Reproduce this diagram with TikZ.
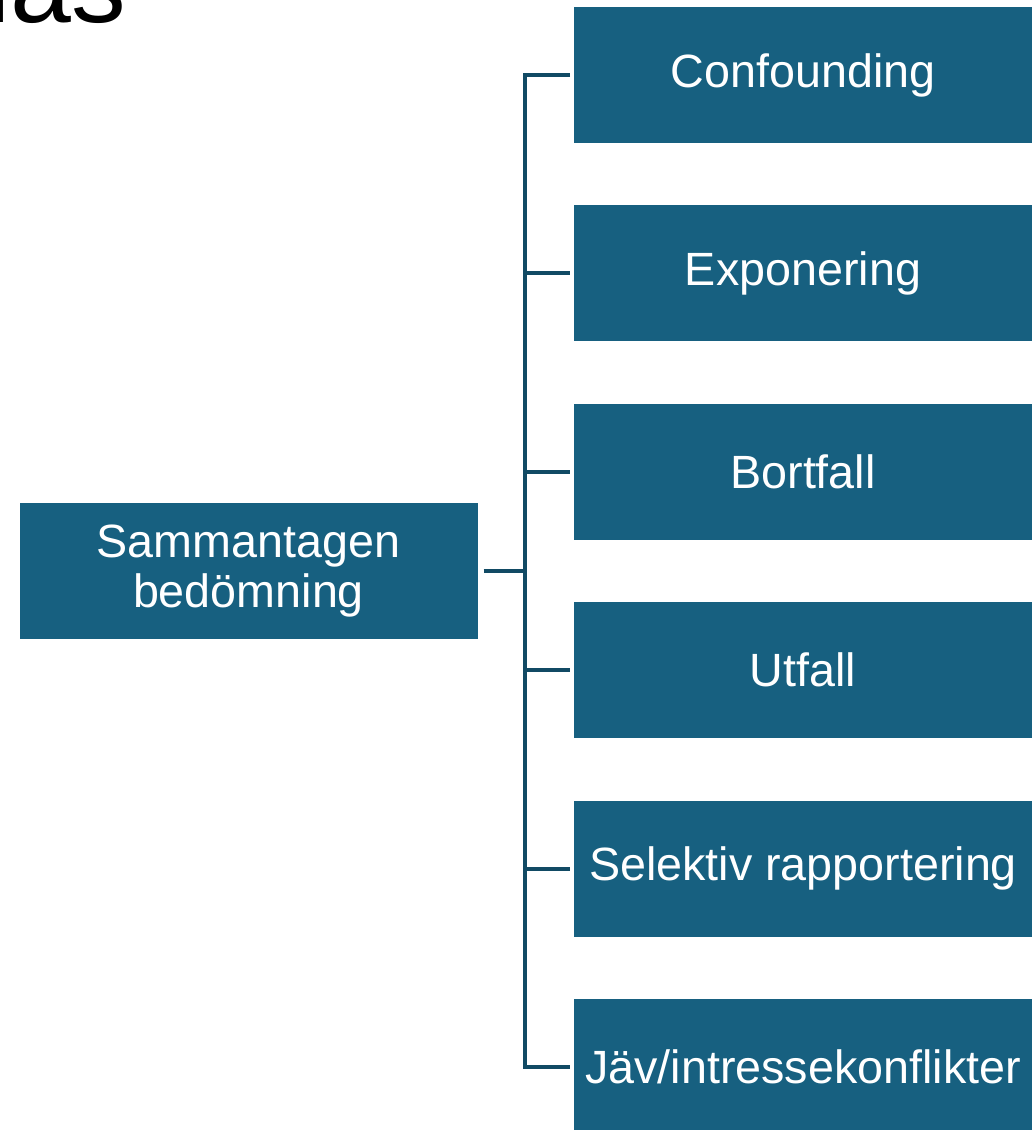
\documentclass[tikz,border=0pt]{standalone}
\usepackage{fontspec}
\setmainfont{Liberation Sans}
\usetikzlibrary{positioning}
\definecolor{boxblue}{RGB}{23,96,128}
\definecolor{linkblue}{RGB}{17,74,100}

\begin{document}
\begin{tikzpicture}[
    x=0.75pt, y=-0.75pt,
    node distance=148.8pt,
    factor/.style={
        rectangle,
        minimum width=343.5pt,
        minimum height=102pt,
        inner sep=0pt,
        outer sep=0pt,
        align=center,
        fill=boxblue,
        text=white,
        font=\fontsize{35}{37.5}\selectfont
    },
    link/.style={line width=3pt, draw=linkblue}
]
\useasboundingbox (0,0) rectangle (1032,1130);
\clip (0,0) rectangle (1032,1130);

\node (title) [anchor=base east, font=\fontsize{82}{82}\selectfont] at (131,23) {Bias};

\node (sum) [factor] at (248.5,571) {Sammantagen\\bedömning};

\node (conf) [factor] at (803,75) {Confounding};
\node (expo) [factor, below of=conf] {Exponering};
\node (bort) [factor, below of=expo] {Bortfall};
\node (utf) [factor, below of=bort] {Utfall};
\node (sel) [factor, below of=utf] {Selektiv rapportering};
\node (jav) [factor, below of=sel] {Jäv/intressekonflikter};

\coordinate (trunk) at (525,571);

\draw [link, shorten <=4.5pt] (sum.east) -- (trunk);
\draw [link, shorten <=3pt, shorten >=3pt]
    (conf.west) -- (trunk |- conf.west) -- (trunk |- jav.west) -- (jav.west);
\draw [link, shorten >=3pt] (trunk |- expo.west) -- (expo.west);
\draw [link, shorten >=3pt] (trunk |- bort.west) -- (bort.west);
\draw [link, shorten >=3pt] (trunk |- utf.west) -- (utf.west);
\draw [link, shorten >=3pt] (trunk |- sel.west) -- (sel.west);

\end{tikzpicture}
\end{document}
